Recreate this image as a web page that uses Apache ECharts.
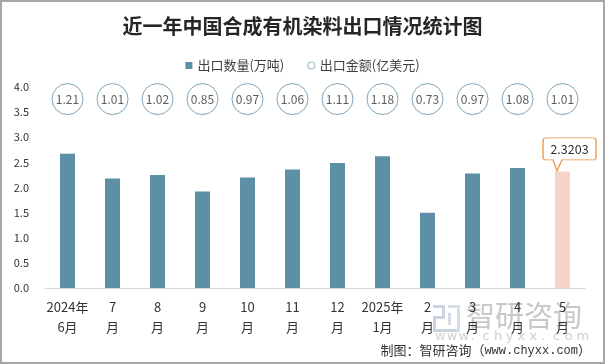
<!DOCTYPE html>
<html>
<head>
<meta charset="utf-8">
<script src="https://cdn.jsdelivr.net/npm/echarts@6/dist/echarts.min.js"></script>
<style>
html,body{margin:0;padding:0;background:#fff;}
#chart{width:605px;height:364px;}
</style>
</head>
<body>
<div id="chart"></div>
<script>
// ---- data ----
var months = ["2024年\n6月","7\n月","8\n月","9\n月","10\n月","11\n月","12\n月","2025年\n1月","2\n月","3\n月","4\n月","5\n月"];
var quantity = [2.67, 2.18, 2.25, 1.92, 2.20, 2.36, 2.49, 2.62, 1.50, 2.28, 2.39, 2.3203];
var amount = [1.21, 1.01, 1.02, 0.85, 0.97, 1.06, 1.11, 1.18, 0.73, 0.97, 1.08, 1.01];
var yTicks = [0, 4, 0.5]; // min, max, interval

// ---- layout constants ----
var BUBBLE_ROW = 3.76;
var BAR_COLOR = '#5d90a6';
var LAST_COLOR = '#f8d3ca';
var CIRCLE_BORDER = '#5f8fa8';
var FONT = '"Noto Sans CJK SC","Microsoft YaHei",sans-serif';

var last = quantity.length - 1;
var barData = quantity.map(function (v, i) {
  return i === last ? { value: v, itemStyle: { color: LAST_COLOR } } : v;
});
var bubbleData = amount.map(function (a, i) { return [i, BUBBLE_ROW, a]; });

var wmChars = 'www.chyxx.com'.split('').map(function (c, i) {
  return {
    type: 'text', x: i * 11.8, y: 0,
    style: { text: c, fontSize: 13, fill: '#cfcfcf', fontFamily: 'DejaVu Sans, sans-serif' }
  };
});

var chart = echarts.init(document.getElementById('chart'), null, { renderer: 'canvas' });
chart.setOption({
  animation: false,
  backgroundColor: '#fff',
  textStyle: { fontFamily: FONT },
  title: {
    text: '近一年中国合成有机染料出口情况统计图',
    left: 'center',
    top: 11,
    textStyle: { fontSize: 20, fontWeight: 'bold', color: '#262626', fontFamily: FONT }
  },
  legend: {
    top: 54,
    left: 'center',
    itemWidth: 7,
    itemHeight: 7,
    itemGap: 23,
    textStyle: { fontSize: 13, color: '#404040', fontFamily: FONT },
    data: [
      { name: '出口数量(万吨)', icon: 'rect', itemStyle: { color: BAR_COLOR } },
      { name: '出口金额(亿美元)', icon: 'circle', itemStyle: { color: '#fff', borderColor: '#8fb3c6', borderWidth: 1.2 } }
    ]
  },
  grid: { left: 45, right: 20, top: 87, bottom: 76 },
  xAxis: {
    type: 'category',
    data: months,
    axisTick: { show: false },
    axisLine: { lineStyle: { color: '#d9d9d9', width: 1 } },
    axisLabel: { fontSize: 13, color: '#333', lineHeight: 20, margin: 9, interval: 0, fontFamily: FONT }
  },
  yAxis: {
    type: 'value',
    min: yTicks[0],
    max: yTicks[1],
    interval: yTicks[2],
    axisLine: { show: false },
    axisTick: { show: false },
    splitLine: { show: false },
    axisLabel: {
      fontSize: 11, color: '#333', margin: 16, fontFamily: FONT,
      formatter: function (v) { return v.toFixed(1); }
    }
  },
  series: [
    {
      name: '出口数量(万吨)',
      type: 'bar',
      data: barData,
      barWidth: 15,
      itemStyle: { color: BAR_COLOR },
      markPoint: {
        symbol: 'path://M3,0 L50,0 Q53,0 53,3 L53,19 Q53,22 50,22 L19,22 L14,33 L10,22 L3,22 Q0,22 0,19 L0,3 Q0,0 3,0 Z',
        symbolSize: [53, 33],
        symbolOffset: [7, -17],
        itemStyle: { color: '#fff', borderColor: '#e8913a', borderWidth: 1 },
        label: {
          show: true,
          position: 'inside',
          offset: [0, -5.5],
          fontSize: 12.5,
          color: '#333',
          fontFamily: FONT,
          formatter: function (p) { return String(p.value); }
        },
        data: [{ coord: [last, quantity[last]], value: quantity[last] }]
      }
    },
    {
      name: '出口金额(亿美元)',
      type: 'scatter',
      data: bubbleData,
      encode: { x: 0, y: 1 },
      symbol: 'circle',
      symbolSize: 31,
      itemStyle: { color: '#fff', borderColor: CIRCLE_BORDER, borderWidth: 1 },
      label: {
        show: true,
        position: 'inside',
        fontSize: 12,
        color: '#333',
        fontFamily: FONT,
        formatter: function (p) { return p.value[2].toFixed(2); }
      },
      z: 3
    }
  ],
  graphic: [
    {
      type: 'rect', silent: true, z: 100,
      shape: { x: 1, y: 1, width: 603, height: 362 },
      style: { fill: 'none', stroke: '#a6a6a6', lineWidth: 2 }
    },
    {
      type: 'group', left: 433, top: 305, z: 0, silent: true,
      children: [
        { type: 'rect', shape: { x: 0, y: 0, width: 12, height: 3 }, style: { fill: '#c9d4e2' } },
        { type: 'rect', shape: { x: 9, y: 0, width: 3, height: 14 }, style: { fill: '#c9d4e2' } },
        { type: 'rect', shape: { x: 0, y: 11, width: 12, height: 3 }, style: { fill: '#c9d4e2' } },
        { type: 'rect', shape: { x: 0, y: 11, width: 3, height: 16 }, style: { fill: '#c9d4e2' } },
        { type: 'rect', shape: { x: 0, y: 24, width: 27, height: 3 }, style: { fill: '#c9d4e2' } },
        { type: 'rect', shape: { x: 15, y: 0, width: 12, height: 3 }, style: { fill: '#d6dde8' } },
        { type: 'rect', shape: { x: 24, y: 0, width: 3, height: 27 }, style: { fill: '#d6dde8' } },
        { type: 'rect', shape: { x: 15, y: 8, width: 3, height: 12 }, style: { fill: '#d6dde8' } }
      ]
    },
    {
      type: 'text', left: 466, top: 301, z: 0, silent: true,
      style: { text: '智研咨询', fontSize: 29, fill: '#c8c8c8', fontFamily: FONT }
    },
    {
      type: 'group', left: 435, top: 330, z: 0, silent: true,
      children: wmChars
    },
    {
      type: 'text', right: 14, top: 344, z: 1, silent: true,
      style: {
        text: '{a|制图：智研咨询（}{b|www.chyxx.com}{a|）}',
        rich: {
          a: { fontSize: 13, fill: '#333', fontFamily: FONT },
          b: { fontSize: 12, fill: '#333', fontFamily: '"Liberation Mono", monospace' }
        }
      }
    }
  ]
});
</script>
</body>
</html>
